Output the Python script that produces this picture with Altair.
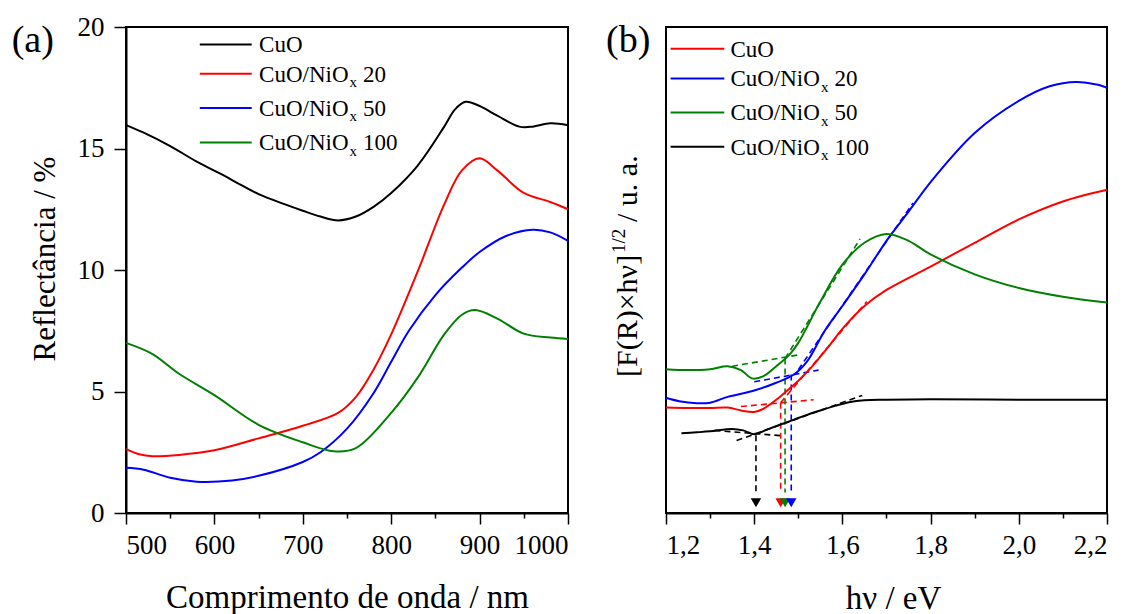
import altair as alt
import pandas as pd

FONT = "Liberation Serif"

# ---------------- panel (a): reflectance ----------------
wl_cuo = [500, 520, 550, 580, 610, 630, 650, 680, 700, 720, 740, 760, 780, 800, 830, 860, 872, 884, 900, 920, 945, 960, 980, 1000]
r_cuo = [15.96, 15.65, 15.1, 14.46, 13.9, 13.5, 13.12, 12.7, 12.44, 12.2, 12.04, 12.2, 12.6, 13.17, 14.3, 15.9, 16.6, 16.92, 16.75, 16.35, 15.9, 15.9, 16.04, 15.96]

wl_20 = [500, 515, 530, 560, 600, 650, 700, 740, 760, 780, 800, 830, 860, 880, 900, 920, 950, 980, 1000]
r_20 = [2.63, 2.42, 2.34, 2.39, 2.58, 3.07, 3.59, 4.12, 4.77, 5.9, 7.35, 9.94, 12.7, 14.1, 14.6, 14.1, 13.17, 12.8, 12.5]

wl_50 = [500, 520, 550, 580, 620, 650, 700, 720, 750, 780, 800, 820, 850, 880, 900, 930, 960, 980, 1000]
r_50 = [1.86, 1.78, 1.45, 1.29, 1.34, 1.53, 2.1, 2.5, 3.47, 4.93, 6.22, 7.5, 8.97, 10.1, 10.74, 11.4, 11.66, 11.55, 11.2]

wl_100 = [500, 530, 560, 600, 650, 700, 735, 760, 800, 830, 860, 880, 895, 920, 950, 980, 1000]
r_100 = [7.0, 6.54, 5.73, 4.85, 3.63, 2.91, 2.54, 2.67, 4.12, 5.57, 7.35, 8.16, 8.35, 8.0, 7.38, 7.22, 7.16]

names = ["CuO", "CuO/NiOx 20", "CuO/NiOx 50", "CuO/NiOx 100"]
colors_a = ["#000000", "#ff0000", "#0000ff", "#008000"]
colors_b = ["#ff0000", "#0000ff", "#008000", "#000000"]

# ---------------- panel (b): Kubelka-Munk ----------------
e_cuo = [1.20, 1.25, 1.30, 1.34, 1.37, 1.40, 1.42, 1.45, 1.475, 1.50, 1.53, 1.57, 1.60, 1.65, 1.70, 1.80, 1.90, 2.00, 2.10, 2.20]
f_cuo = [21.7, 21.6, 21.6, 21.7, 21.1, 20.8, 21.4, 23.3, 25.2, 27.2, 30.0, 34.4, 37.9, 42.6, 45.9, 50.7, 55.6, 60.4, 64.1, 66.5]

e_20 = [1.20, 1.23, 1.27, 1.30, 1.34, 1.40, 1.45, 1.49, 1.52, 1.56, 1.60, 1.65, 1.70, 1.75, 1.80, 1.90, 2.00, 2.07, 2.13, 2.18, 2.20]
f_20 = [23.7, 23.0, 22.6, 22.7, 23.9, 25.2, 26.8, 28.5, 31.2, 37.5, 42.6, 49.1, 56.0, 62.0, 68.1, 78.2, 84.8, 87.8, 88.7, 88.1, 87.5]

e_50 = [1.20, 1.25, 1.30, 1.34, 1.37, 1.395, 1.42, 1.45, 1.48, 1.50, 1.55, 1.60, 1.65, 1.70, 1.75, 1.80, 1.90, 2.00, 2.10, 2.20]
f_50 = [29.6, 29.4, 29.6, 30.2, 29.4, 27.7, 28.1, 30.2, 32.6, 35.0, 43.5, 51.1, 55.6, 57.4, 56.0, 53.2, 49.1, 46.3, 44.5, 43.3]

e_100 = [1.235, 1.27, 1.30, 1.35, 1.375, 1.40, 1.43, 1.46, 1.49, 1.52, 1.55, 1.585, 1.615, 1.65, 1.70, 1.80, 2.00, 2.20]
f_100 = [16.4, 16.6, 16.8, 17.3, 17.0, 16.2, 17.2, 18.2, 19.2, 20.2, 21.1, 22.1, 22.8, 23.2, 23.3, 23.4, 23.3, 23.3]

# dashed construction lines (baseline, tangent, drop line) per sample
seg_s = ["CuO/NiOx 100"] * 3 + ["CuO"] * 3 + ["CuO/NiOx 50"] * 3 + ["CuO/NiOx 20"] * 3
seg_x1 = [1.31, 1.36, 1.404, 1.37, 1.46, 1.460, 1.35, 1.47, 1.470, 1.40, 1.50, 1.484]
seg_y1 = [17.0, 14.9, 16.0, 21.9, 22.7, 22.7, 30.2, 31.8, 31.8, 27.0, 29.5, 28.5]
seg_x2 = [1.462, 1.645, 1.404, 1.535, 1.655, 1.460, 1.505, 1.64, 1.470, 1.546, 1.76, 1.484]
seg_y2 = [15.9, 24.2, 4.2, 23.3, 43.5, 4.2, 32.6, 56.4, 4.2, 29.4, 63.8, 4.2]

# band-gap arrows
eg_s = ["CuO/NiOx 100", "CuO", "CuO/NiOx 50", "CuO/NiOx 20"]
eg_x = [1.404, 1.460, 1.470, 1.484]
eg_y = [2.1, 2.1, 2.1, 2.1]


def long_df(pairs):
    rows = []
    for name, xs, ys in pairs:
        for x, y in zip(xs, ys):
            rows.append({"s": name, "x": x, "y": y})
    return pd.DataFrame(rows)


df_a = long_df([(names[0], wl_cuo, r_cuo), (names[1], wl_20, r_20),
                (names[2], wl_50, r_50), (names[3], wl_100, r_100)])
df_b = long_df([(names[0], e_cuo, f_cuo), (names[1], e_20, f_20),
                (names[2], e_50, f_50), (names[3], e_100, f_100)])
df_seg = pd.DataFrame({"s": seg_s, "x": seg_x1, "y": seg_y1, "x2": seg_x2, "y2": seg_y2})
df_eg = pd.DataFrame({"s": eg_s, "x": eg_x, "y": eg_y})


def txt(t, x, y, size, angle=0, align="left", baseline="alphabetic", color="black"):
    return alt.Chart(pd.DataFrame({"t": [t]})).mark_text(
        font=FONT, fontSize=size, angle=angle, align=align, baseline=baseline, color=color
    ).encode(x=alt.value(x), y=alt.value(y), text="t:N")


def legend(colors, lx0, lx1, tx, ys):
    layers = []
    suffix = [None, "20", "50", "100"]
    for i in range(4):
        y = ys[i]
        layers.append(alt.Chart(pd.DataFrame({"a": [0]})).mark_rule(color=colors[i], strokeWidth=2)
                      .encode(x=alt.value(lx0), x2=alt.value(lx1), y=alt.value(y)))
        base = y + 7.8
        if suffix[i] is None:
            layers.append(txt("CuO", tx, base, 23))
        else:
            layers.append(txt("CuO/NiO", tx, base, 23))
            layers.append(txt("x", tx + 90.5, base + 5.5, 15))
            layers.append(txt(suffix[i], tx + 104, base, 23))
    return layers


W_A, W_B, H = 442, 441, 486
AX = dict(labelFont=FONT, labelFontSize=27, labelColor="black", titleFont=FONT,
          titleFontSize=33, titleFontWeight="normal", titleColor="black")

# ---------------- left panel ----------------
xa = alt.X("x:Q", scale=alt.Scale(domain=[500, 1000], nice=False, zero=False),
           axis=alt.Axis(values=list(range(500, 1001, 50)),
                         labelExpr="datum.value % 100 == 0 ? datum.label : ''",
                         tickSize={"condition": {"test": "datum.value % 100 == 0", "value": 11}, "value": 5},
                         labelPadding=8, format="d",
                         title="Comprimento de onda / nm", titleY=94, titleBaseline="alphabetic",
                         titleAlign="center", **AX))
ya = alt.Y("y:Q", scale=alt.Scale(domain=[0, 20], nice=False),
           axis=alt.Axis(values=[0, 5, 10, 15, 20], tickSize=12, labelPadding=10, title=None, **AX))

lines_a = alt.Chart(df_a).mark_line(strokeWidth=2, interpolate="catmull-rom").encode(
    x=xa, y=ya,
    color=alt.Color("s:N", scale=alt.Scale(domain=names, range=colors_a), legend=None))

left_layers = [lines_a]
left_layers += legend(colors_a, 73.8, 125.7, 133.1, [17.4, 46.8, 81.0, 115.5])
left_layers.append(txt("(a)", -114.3, 24.8, 38))
left_layers.append(txt("Reflectância / %", -70.6, 232, 31, angle=270, align="center"))
left = alt.layer(*left_layers).properties(width=W_A, height=H)

# ---------------- right panel ----------------
axis_b = alt.Axis(values=[1.2, 1.3, 1.4, 1.5, 1.6, 1.7, 1.8, 1.9, 2.0, 2.1, 2.2],
                  labelExpr="round(datum.value*10) % 2 == 0 ? replace(format(datum.value, '.1f'), '.', ',') : ''",
                  tickSize={"condition": {"test": "round(datum.value*10) % 2 == 0", "value": 11}, "value": 5},
                  labelPadding=8,
                  title="hν / eV", titleY=95, titleX=227, titleBaseline="alphabetic",
                  titleAlign="center", **AX)
sx_b = alt.Scale(domain=[1.2, 2.2], nice=False, zero=False)
sy_b = alt.Scale(domain=[0, 100], nice=False)
cscale_b = alt.Scale(domain=names, range=colors_b)

segs = alt.Chart(df_seg).mark_rule(strokeWidth=1.6, strokeDash=[6, 4]).encode(
    x=alt.X("x:Q", scale=sx_b, axis=axis_b),
    y=alt.Y("y:Q", scale=sy_b, axis=None),
    x2="x2:Q", y2="y2:Q",
    color=alt.Color("s:N", scale=cscale_b, legend=None))
lines_b = alt.Chart(df_b).mark_line(strokeWidth=2, interpolate="catmull-rom").encode(
    x=alt.X("x:Q", scale=sx_b, axis=axis_b),
    y=alt.Y("y:Q", scale=sy_b, axis=None),
    color=alt.Color("s:N", scale=cscale_b, legend=None))
heads = alt.Chart(df_eg).mark_point(shape="triangle-down", filled=True, size=110, opacity=1).encode(
    x=alt.X("x:Q", scale=sx_b, axis=axis_b),
    y=alt.Y("y:Q", scale=sy_b, axis=None),
    color=alt.Color("s:N", scale=cscale_b, legend=None))

right_layers = [segs, lines_b, heads]
right_layers += legend(colors_b, 4.6, 58.3, 64.4, [21.8, 51.5, 85.6, 119.7])
right_layers.append(txt("(b)", -60, 24.8, 38))
right_layers.append(txt("[F(R)×hν]", -28.7, 350, 30, angle=270))
right_layers.append(txt("1/2", -40.7, 226, 19, angle=270))
right_layers.append(txt("/ u. a.", -28.7, 195, 30, angle=270))
right = alt.layer(*right_layers).properties(width=W_B, height=H)

chart = alt.hconcat(left, right, spacing=98, bounds="flush").resolve_scale(
    color="independent", x="independent", y="independent"
).properties(
    padding={"left": 10, "top": 12, "right": 5, "bottom": 5}, background="white"
).configure(font=FONT).configure_view(
    stroke="black", strokeWidth=2
).configure_axis(
    labelFont=FONT, labelFontSize=27, labelColor="black", titleFont=FONT,
    domainColor="black", domainWidth=2, tickColor="black", tickWidth=1.5,
    grid=False, titleColor="black"
).configure_text(font=FONT)

chart.save("out.html", embed_options={"renderer": "svg", "actions": False})
